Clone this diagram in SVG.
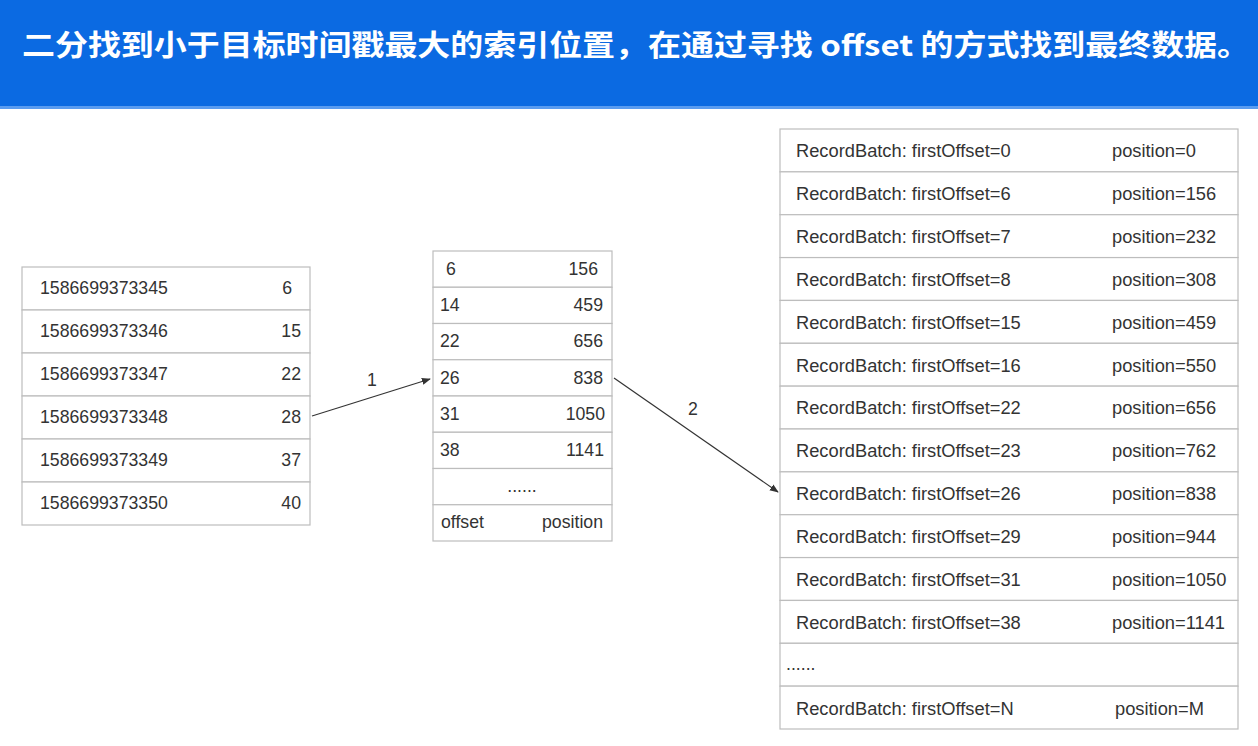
<svg xmlns="http://www.w3.org/2000/svg" width="1258" height="746" viewBox="0 0 1258 746">
<style>
.t{font-family:"Liberation Sans",Arial,sans-serif;font-size:17.7px;fill:#333}
.b{font-size:18.3px}
.r{text-anchor:end}
.cell{fill:#fff;stroke:#bdbdbd;stroke-width:1.2}
.conn{stroke:#333;stroke-width:1.2;fill:none}
.lbl{font-family:"Liberation Sans",Arial,sans-serif;font-size:17.7px;fill:#333;text-anchor:middle}
</style>
<defs>
<marker id="ah" viewBox="0 0 10 10" refX="9" refY="5" markerWidth="9" markerHeight="9" markerUnits="userSpaceOnUse" orient="auto">
<path d="M0,1 L10,5 L0,9 z" fill="#333"/>
</marker>
</defs>
<rect width="1258" height="746" fill="#fff"/>
<g id="header">
<rect x="0" y="0" width="1258" height="108" fill="#0b6ae2"/>
<rect x="0" y="106" width="1258" height="3" fill="#5a9cf0"/>
<text x="22" y="56" font-family="'Noto Sans CJK SC',sans-serif" font-weight="bold" font-size="29" fill="#fff" textLength="1228" lengthAdjust="spacingAndGlyphs">二分找到小于目标时间戳最大的索引位置，在通过寻找 offset 的方式找到最终数据。</text>
</g>
<g id="timeindex">
<rect class="cell" x="22" y="267" width="288" height="43"/>
<rect class="cell" x="22" y="310" width="288" height="43"/>
<rect class="cell" x="22" y="353" width="288" height="43"/>
<rect class="cell" x="22" y="396" width="288" height="43"/>
<rect class="cell" x="22" y="439" width="288" height="43"/>
<rect class="cell" x="22" y="482" width="288" height="43"/>
<text class="t" x="40" y="294">1586699373345</text><text class="t r" x="292" y="294">6</text>
<text class="t" x="40" y="337">1586699373346</text><text class="t r" x="301" y="337">15</text>
<text class="t" x="40" y="380">1586699373347</text><text class="t r" x="301" y="380">22</text>
<text class="t" x="40" y="423">1586699373348</text><text class="t r" x="301" y="423">28</text>
<text class="t" x="40" y="466">1586699373349</text><text class="t r" x="301" y="466">37</text>
<text class="t" x="40" y="509">1586699373350</text><text class="t r" x="301" y="509">40</text>
</g>
<g id="offsetindex">
<rect class="cell" x="433" y="251" width="179" height="36.25"/>
<rect class="cell" x="433" y="287.25" width="179" height="36.25"/>
<rect class="cell" x="433" y="323.5" width="179" height="36.25"/>
<rect class="cell" x="433" y="359.75" width="179" height="36.25"/>
<rect class="cell" x="433" y="396" width="179" height="36.25"/>
<rect class="cell" x="433" y="432.25" width="179" height="36.25"/>
<rect class="cell" x="433" y="468.5" width="179" height="36.25"/>
<rect class="cell" x="433" y="504.75" width="179" height="36.25"/>
<text class="t" x="446" y="275">6</text><text class="t r" x="598" y="275">156</text>
<text class="t" x="440" y="311">14</text><text class="t r" x="603" y="311">459</text>
<text class="t" x="440" y="347">22</text><text class="t r" x="603" y="347">656</text>
<text class="t" x="440" y="384">26</text><text class="t r" x="603" y="384">838</text>
<text class="t" x="440" y="420">31</text><text class="t r" x="605" y="420">1050</text>
<text class="t" x="440" y="456">38</text><text class="t r" x="604" y="456">1141</text>
<text class="t" x="522" y="492" text-anchor="middle" font-size="12">......</text>
<text class="t" x="441" y="528">offset</text><text class="t r" x="603" y="528">position</text>
</g>
<g id="logsegment">
<rect class="cell" x="780" y="129" width="458" height="42.86"/>
<rect class="cell" x="780" y="171.86" width="458" height="42.86"/>
<rect class="cell" x="780" y="214.71" width="458" height="42.86"/>
<rect class="cell" x="780" y="257.57" width="458" height="42.86"/>
<rect class="cell" x="780" y="300.43" width="458" height="42.86"/>
<rect class="cell" x="780" y="343.29" width="458" height="42.86"/>
<rect class="cell" x="780" y="386.14" width="458" height="42.86"/>
<rect class="cell" x="780" y="429" width="458" height="42.86"/>
<rect class="cell" x="780" y="471.86" width="458" height="42.86"/>
<rect class="cell" x="780" y="514.71" width="458" height="42.86"/>
<rect class="cell" x="780" y="557.57" width="458" height="42.86"/>
<rect class="cell" x="780" y="600.43" width="458" height="42.86"/>
<rect class="cell" x="780" y="643.29" width="458" height="42.86"/>
<rect class="cell" x="780" y="686.14" width="458" height="42.86"/>
<text class="t b" x="796" y="157">RecordBatch: firstOffset=0</text><text class="t b" x="1112" y="157">position=0</text>
<text class="t b" x="796" y="200">RecordBatch: firstOffset=6</text><text class="t b" x="1112" y="200">position=156</text>
<text class="t b" x="796" y="243">RecordBatch: firstOffset=7</text><text class="t b" x="1112" y="243">position=232</text>
<text class="t b" x="796" y="286">RecordBatch: firstOffset=8</text><text class="t b" x="1112" y="286">position=308</text>
<text class="t b" x="796" y="329">RecordBatch: firstOffset=15</text><text class="t b" x="1112" y="329">position=459</text>
<text class="t b" x="796" y="372">RecordBatch: firstOffset=16</text><text class="t b" x="1112" y="372">position=550</text>
<text class="t b" x="796" y="414">RecordBatch: firstOffset=22</text><text class="t b" x="1112" y="414">position=656</text>
<text class="t b" x="796" y="457">RecordBatch: firstOffset=23</text><text class="t b" x="1112" y="457">position=762</text>
<text class="t b" x="796" y="500">RecordBatch: firstOffset=26</text><text class="t b" x="1112" y="500">position=838</text>
<text class="t b" x="796" y="543">RecordBatch: firstOffset=29</text><text class="t b" x="1112" y="543">position=944</text>
<text class="t b" x="796" y="586">RecordBatch: firstOffset=31</text><text class="t b" x="1112" y="586">position=1050</text>
<text class="t b" x="796" y="629">RecordBatch: firstOffset=38</text><text class="t b" x="1112" y="629">position=1141</text>
<text class="t" x="786" y="670" font-size="12">......</text>
<text class="t b" x="796" y="715">RecordBatch: firstOffset=N</text><text class="t b" x="1115" y="715">position=M</text>
</g>
<g id="connectors">
<line class="conn" x1="312" y1="416" x2="430" y2="379" marker-end="url(#ah)"/>
<text class="lbl" x="372" y="386">1</text>
<line class="conn" x1="614" y1="378" x2="778" y2="492" marker-end="url(#ah)"/>
<text class="lbl" x="693" y="415">2</text>
</g>
</svg>
